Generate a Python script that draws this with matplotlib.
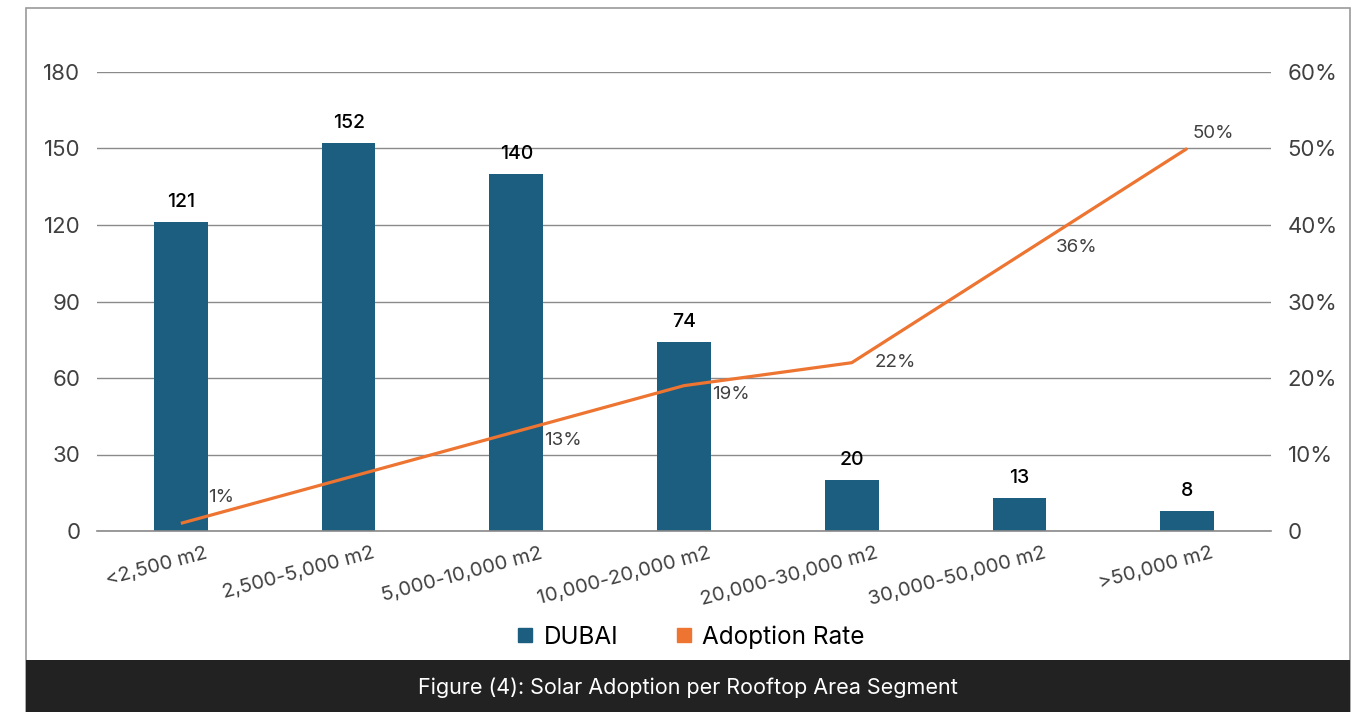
import matplotlib
matplotlib.use("Agg")
import matplotlib.pyplot as plt
from matplotlib.lines import Line2D
from matplotlib.patches import Rectangle
import matplotlib.transforms as mtransforms

plt.rcParams['font.family'] = ['Inter', 'DejaVu Sans']

# Data
categories = ["<2,500 m2", "2,500-5,000 m2", "5,000-10,000 m2", "10,000-20,000 m2",
              "20,000-30,000 m2", "30,000-50,000 m2", ">50,000 m2"]
dubai_counts = [121, 152, 140, 74, 20, 13, 8]
adoption_rate = [1, 7, 13, 19, 22, 36, 50]          # percent
rate_labels_shown = [True, False, True, True, True, True, True]

left_ticks = [0, 30, 60, 90, 120, 150, 180]
right_ticks = [0, 10, 20, 30, 40, 50, 60]
right_tick_labels = ["0", "10%", "20%", "30%", "40%", "50%", "60%"]

caption = "Figure (4): Solar Adoption per Rooftop Area Segment"

BAR_COLOR = "#1b5e80"
LINE_COLOR = "#ed7431"
TEXT_GRAY = "#404040"

W, H = 1367, 712
fig = plt.figure(figsize=(W / 100, H / 100), dpi=100)
fig.patch.set_facecolor("white")

# Frame and caption band
fig.add_artist(Rectangle((26 / W, 0), (1350 - 26) / W, (712 - 8) / H,
                         transform=fig.transFigure, fill=False,
                         edgecolor="#9a9a9a", linewidth=1.2))
fig.add_artist(Rectangle((26 / W, 0), (1350 - 26) / W, (712 - 660) / H,
                         transform=fig.transFigure, facecolor="#222222",
                         edgecolor="none"))
fig.text(688 / W, (712 - 688) / H, caption, color="white", fontsize=15.5,
         ha="center", va="center")

ax = fig.add_axes([97 / W, (712 - 531) / H, 1174 / W, (531 - 72) / H])
x = list(range(len(categories)))

ax.bar(x, dubai_counts, width=0.32, color=BAR_COLOR, zorder=2)
ax.set_xlim(-0.5, len(categories) - 0.5)
ax.set_ylim(0, 180)
ax.set_yticks(left_ticks)
ax.set_yticklabels([str(t) for t in left_ticks])
ax.tick_params(axis="y", length=0, pad=12, labelsize=16, labelcolor=TEXT_GRAY)
ax.grid(axis="y", color="#8a8a8a", linewidth=1.0, zorder=0)
ax.set_axisbelow(True)
for s in ["top", "left", "right"]:
    ax.spines[s].set_visible(False)
ax.spines["bottom"].set_color("#8a8a8a")
ax.spines["bottom"].set_linewidth(1.2)

# Category labels, rotated
ax.set_xticks(x)
ax.set_xticklabels(categories, rotation=15, ha="right", va="center",
                   rotation_mode="anchor", fontsize=14.5, color=TEXT_GRAY)
ax.tick_params(axis="x", length=0, pad=16)
shift = mtransforms.ScaledTranslation(26 / 100, 0, fig.dpi_scale_trans)
for lbl in ax.get_xticklabels():
    lbl.set_transform(lbl.get_transform() + shift)

for xi, v in zip(x, dubai_counts):
    ax.annotate(str(v), (xi, v), xytext=(0, 20), textcoords="offset pixels",
                ha="center", va="center", fontsize=14, color="black",
                fontweight="medium")

# Adoption rate on secondary axis
ax2 = ax.twinx()
ax2.set_ylim(0, 60)
ax2.plot(x, adoption_rate, color=LINE_COLOR, linewidth=2.3, zorder=3,
         solid_capstyle="butt", solid_joinstyle="miter")
ax2.set_yticks(right_ticks)
ax2.set_yticklabels(right_tick_labels)
ax2.tick_params(axis="y", length=0, pad=12, labelsize=16, labelcolor=TEXT_GRAY)
for s in ["top", "left", "right", "bottom"]:
    ax2.spines[s].set_visible(False)

rate_offsets = [(40, 26), (0, 0), (47, -9), (47, -9), (44, 0), (57, 8), (26, 15)]
for xi, v, show, off in zip(x, adoption_rate, rate_labels_shown, rate_offsets):
    if show:
        ax2.annotate(f"{v}%", (xi, v), xytext=off, textcoords="offset pixels",
                     ha="center", va="center", fontsize=13.5, color=TEXT_GRAY)

# Legend
handles = [Line2D([], [], marker="s", linestyle="none", markersize=9.5,
                  color=BAR_COLOR, label="DUBAI"),
           Line2D([], [], marker="s", linestyle="none", markersize=9.5,
                  color=LINE_COLOR, label="Adoption Rate")]
fig.legend(handles=handles, loc="center", bbox_to_anchor=(689 / W, (712 - 637) / H),
           ncol=2, frameon=False, fontsize=17.5, handletextpad=0.25,
           columnspacing=2.2, handlelength=1.0)

fig.savefig("out.png", dpi=100, facecolor="white")
